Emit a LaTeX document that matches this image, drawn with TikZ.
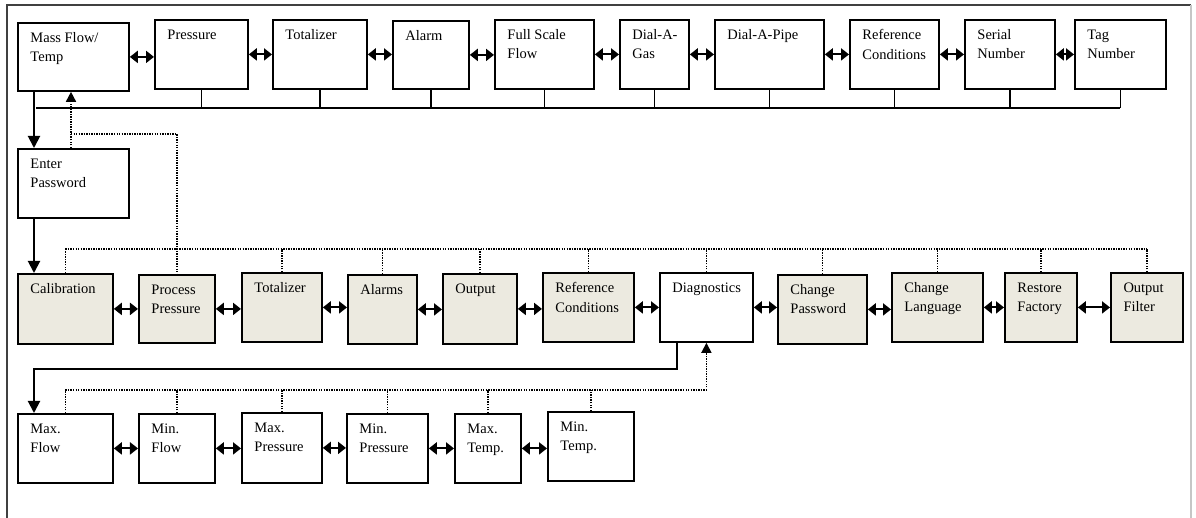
\documentclass[tikz,border=0pt]{standalone}
\usepackage{fontspec}
\setmainfont{Liberation Serif}
\usetikzlibrary{arrows.meta,calc}
\definecolor{panel}{RGB}{236,234,224}

\begin{document}
\begin{tikzpicture}[x=0.025cm, y=-0.025cm,
    box/.style={rectangle, draw, line width=1.3pt, anchor=north west, inner sep=0pt},
    shaded/.style={box, fill=panel},
    wh/.style 2 args={minimum width=#1*0.025cm, minimum height=#2*0.025cm},
    lbl/.style={anchor=north west, align=left, inner xsep=0.33cm, inner ysep=0.26cm, font=\fontsize{10.3pt}{13.6pt}\selectfont},
    bus/.style={line width=1pt},
    frame/.style={line width=1.2pt, black!75},
    solidarrow/.style={line width=1.4pt, -{Triangle[length=0.3cm, width=0.3cm]}},
    dotline/.style={line width=1.2pt, dash pattern=on 1pt off 0.8pt},
    dotarrow/.style={dotline, -{Triangle[length=0.25cm, width=0.25cm]}},
    dblarrow/.style={line width=1.4pt, {Triangle[length=0.2cm, width=0.3cm]}-{Triangle[length=0.2cm, width=0.3cm]}}
]
\useasboundingbox (0,0) rectangle (1196,518);

% outer frame
\draw[frame] (7,518) -- (7,5) -- (1191,5);
\draw[frame, gray!45] (1191,5) -- (1191,518);

% display menu
\node[box, wh={111}{68}, label={[lbl]north west:{Mass Flow/\\Temp}}] (mass) at (17,22) {};
\node[box, wh={93}{69}, label={[lbl]north west:{Pressure}}] (pres) at (154,19) {};
\node[box, wh={94}{69}, label={[lbl]north west:{Totalizer}}] (tot1) at (272,19) {};
\node[box, wh={76}{68}, label={[lbl]north west:{Alarm}}] (alarm) at (392,20) {};
\node[box, wh={99}{69}, label={[lbl]north west:{Full Scale\\Flow}}] (fsf) at (494,19) {};
\node[box, wh={69}{69}, label={[lbl]north west:{Dial-A-\\Gas}}] (dgas) at (619,19) {};
\node[box, wh={109}{69}, label={[lbl]north west:{Dial-A-Pipe}}] (dpipe) at (714,19) {};
\node[box, wh={89}{69}, label={[lbl]north west:{Reference\\Conditions}}] (ref1) at (849,19) {};
\node[box, wh={90}{69}, label={[lbl]north west:{Serial\\Number}}] (serial) at (964,19) {};
\node[box, wh={91}{69}, label={[lbl]north west:{Tag\\Number}}] (tag) at (1074,19) {};

\node[box, wh={111}{69}, label={[lbl]north west:{Enter\\Password}}] (pass) at (17,148) {};

% programming menu
\node[shaded, wh={95}{70}, label={[lbl]north west:{Calibration}}] (calib) at (17,273) {};
\node[shaded, wh={76}{68}, label={[lbl]north west:{Process\\Pressure}}] (pproc) at (138,274) {};
\node[shaded, wh={80}{69}, label={[lbl]north west:{Totalizer}}] (tot2) at (241,272) {};
\node[shaded, wh={69}{69}, label={[lbl]north west:{Alarms}}] (alarms) at (347,274) {};
\node[shaded, wh={74}{70}, label={[lbl]north west:{Output}}] (output) at (442,273) {};
\node[shaded, wh={91}{69}, label={[lbl]north west:{Reference\\Conditions}}] (ref2) at (542,272) {};
\node[box, wh={93}{69}, label={[lbl]north west:{Diagnostics}}] (diag) at (659,272) {};
\node[shaded, wh={89}{69}, label={[lbl]north west:{Change\\Password}}] (cpass) at (777,274) {};
\node[shaded, wh={91}{69}, label={[lbl]north west:{Change\\Language}}] (clang) at (891,272) {};
\node[shaded, wh={72}{69}, label={[lbl]north west:{Restore\\Factory}}] (restore) at (1004,272) {};
\node[shaded, wh={72}{69}, label={[lbl]north west:{Output\\Filter}}] (ofilt) at (1110,272) {};

% diagnostics menu
\node[box, wh={95}{69}, label={[lbl]north west:{Max.\\Flow}}] (maxf) at (17,413) {};
\node[box, wh={76}{69}, label={[lbl]north west:{Min.\\Flow}}] (minf) at (138,413) {};
\node[box, wh={80}{70}, label={[lbl]north west:{Max.\\Pressure}}] (maxp) at (241,412) {};
\node[box, wh={81}{69}, label={[lbl]north west:{Min.\\Pressure}}] (minp) at (346,413) {};
\node[box, wh={66}{69}, label={[lbl]north west:{Max.\\Temp.}}] (maxt) at (454,413) {};
\node[box, wh={86}{69}, label={[lbl]north west:{Min.\\Temp.}}] (mint) at (547,411) {};

% double arrows
\foreach \a/\b in {mass/pres, pres/tot1, tot1/alarm, alarm/fsf, fsf/dgas, dgas/dpipe, dpipe/ref1, ref1/serial, serial/tag,
                   calib/pproc, pproc/tot2, tot2/alarms, alarms/output, output/ref2, ref2/diag, diag/cpass, cpass/clang, clang/restore, restore/ofilt,
                   maxf/minf, minf/maxp, maxp/minp, minp/maxt, maxt/mint}
    \draw[dblarrow] (\a.east) -- (\b.west |- \a.east);

% return bus of the top row
\coordinate (bus1) at (0,108);
\coordinate (m1) at ($(mass.south west)+(19,0)$);
\draw[bus] (m1 |- bus1) -- (tag.south |- bus1);
\foreach \n in {pres, tot1, alarm, fsf, dgas, dpipe, ref1, serial, tag}
    \draw[bus] (\n.south) -- (\n.south |- bus1);

% password path
\draw[solidarrow] ($(mass.south west)+(17,0)$) -- ($(pass.north west)+(17,0)$);
\draw[solidarrow] ($(pass.south west)+(17,0)$) -- ($(calib.north west)+(17,0)$);
\draw[dotarrow] ($(pass.north west)+(54,0)$) -- ($(mass.south west)+(54,0)$);
\coordinate (br) at ($(pass.north west)+(54,-14)$);
\draw[dotline] (br) -| (pproc.north);

% return bus of the programming row
\coordinate (bus2) at (0,249);
\draw[dotline] (calib.north |- bus2) -- (ofilt.north |- bus2);
\foreach \n in {calib, tot2, alarms, output, ref2, diag, cpass, clang, restore, ofilt}
    \draw[dotline] (\n.north) -- (\n.north |- bus2);

% diagnostics path
\draw[solidarrow] ($(diag.south west)+(18,0)$) -- ++(0,26) -| ($(maxf.north west)+(17,0)$);
\coordinate (bus3) at (0,390);
\draw[dotline] (maxf.north |- bus3) -- (diag.south |- bus3);
\draw[dotarrow] (diag.south |- bus3) -- (diag.south);
\foreach \n in {maxf, minf, maxp, minp, maxt, mint}
    \draw[dotline] (\n.north) -- (\n.north |- bus3);
\end{tikzpicture}
\end{document}
